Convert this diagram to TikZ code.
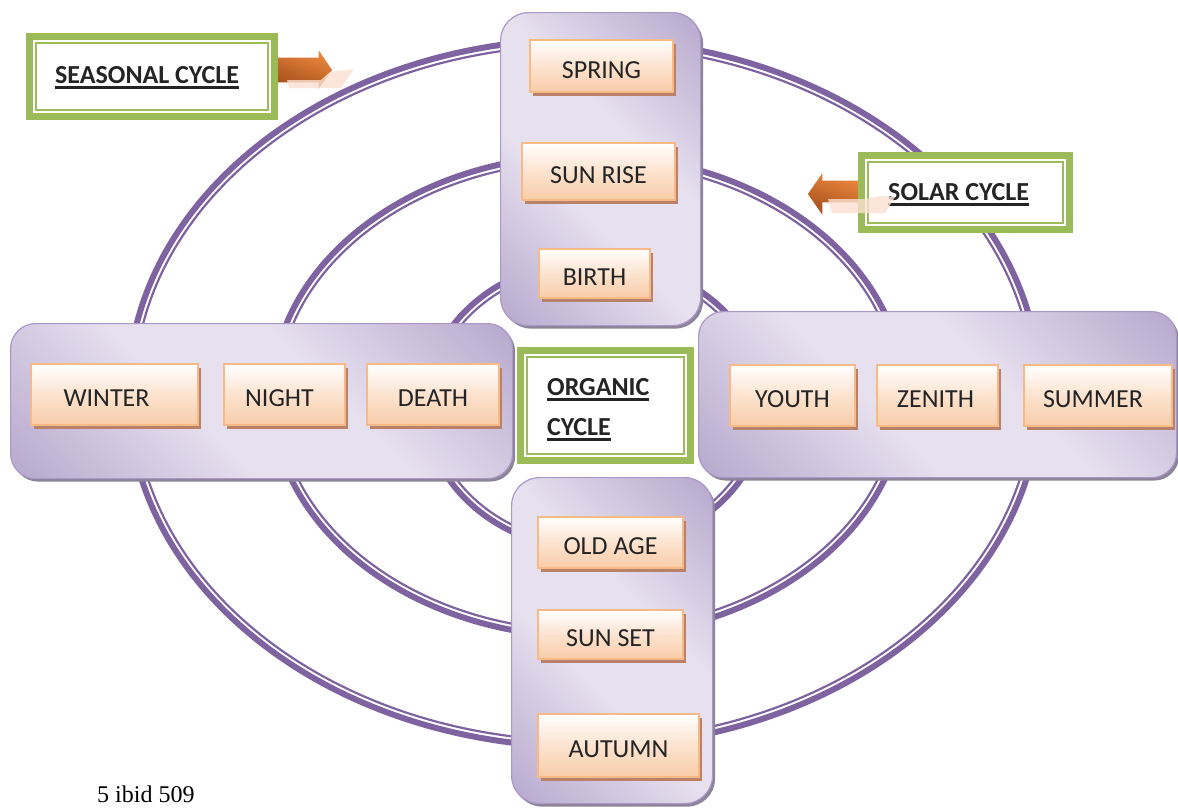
\documentclass[tikz,border=0pt]{standalone}
\usepackage{fontspec}
\setmainfont{Carlito}
\newfontfamily\timesf{Liberation Serif}
\usetikzlibrary{shadows}
\definecolor{ell}{RGB}{127,99,161}
\definecolor{plight}{RGB}{231,225,239}
\definecolor{pdark}{RGB}{178,162,202}
\definecolor{pborder}{RGB}{170,152,198}
\definecolor{pshadow}{RGB}{140,132,152}
\definecolor{oborder}{RGB}{247,186,135}
\definecolor{opeach}{RGB}{249,204,168}
\definecolor{oshadow}{RGB}{185,128,106}
\definecolor{lgreen}{RGB}{155,187,89}
\definecolor{arrL}{RGB}{238,138,64}
\definecolor{arrD}{RGB}{163,78,26}
\definecolor{refl}{RGB}{251,224,208}
\definecolor{txt}{RGB}{36,36,36}
\pgfdeclarehorizontalshading{purpleshade}{100bp}{color(0bp)=(pdark); color(12bp)=(pdark); color(42bp)=(plight); color(58bp)=(plight); color(88bp)=(pdark); color(100bp)=(pdark)}
\newcommand\ulbar[1]{\setbox0\hbox{#1}\rlap{\raisebox{-5.8pt}{\rule{\wd0}{2.8pt}}}\box0}
\tikzset{
  ellthick/.style={draw=ell, line width=6pt},
  ellthin/.style={draw=ell, line width=2.2pt},
  pbox/.style={draw=pborder, line width=1.2pt, rounded corners=28pt,
    shading=purpleshade, shading angle=45,
    drop shadow={shadow xshift=2.5pt, shadow yshift=-3pt, fill=pshadow, opacity=1}},
  obox/.style={draw=oborder, line width=1.6pt, top color=white, bottom color=opeach,
    middle color=white!45!opeach, text=txt, inner sep=0pt,
    text height=24pt, text depth=0pt,
    font=\fontsize{26}{30}\selectfont,
    drop shadow={shadow xshift=3pt, shadow yshift=-4pt, fill=oshadow, opacity=1}},
  gbox/.style={draw=lgreen, line width=7pt, fill=white, inner sep=0pt},
  gthin/.style={draw=lgreen, line width=1.8pt},
  gtext/.style={anchor=base west, inner sep=0pt, text=txt, font=\bfseries\fontsize{26}{30}\selectfont},
  blockarrow/.style={left color=arrL, right color=arrD, shading angle=-20, draw=white, line width=1.2pt},
  reflect/.style={fill=refl, opacity=0.8},
}
\begin{document}
\begin{tikzpicture}[x=1pt,y=-1pt]
\useasboundingbox (0,0) rectangle (1178,809);
\fill[white] (0,0) rectangle (1178,809);
% ellipses
\draw[ellthick] (584,393) ellipse [x radius=456, y radius=354];
\draw[ellthin] (584,393) ellipse [x radius=449.8, y radius=347.8];
\draw[ellthick] (588,396) ellipse [x radius=316, y radius=241];
\draw[ellthin] (588,396) ellipse [x radius=309.8, y radius=234.8];
\draw[ellthick] (595,405) ellipse [x radius=170, y radius=145];
\draw[ellthin] (595,405) ellipse [x radius=163.8, y radius=138.8];
% arrows
\shade[blockarrow] (277,57) -- (318,57) -- (318,48) -- (333,70) -- (318,91) -- (318,83) -- (277,83) -- cycle;
\shade[blockarrow] (860,180) -- (823,180) -- (823,171) -- (807,194) -- (823,217) -- (823,203) -- (860,203) -- cycle;
% purple boxes
\node[pbox, minimum width=200pt, minimum height=313pt, anchor=north west] (topbox) at (500,12) {};
\node[pbox, rounded corners=25pt, minimum width=502pt, minimum height=155pt, anchor=north west] (leftbox) at (10,323) {};
\node[pbox, rounded corners=25pt, minimum width=478pt, minimum height=166pt, anchor=north west] (rightbox) at (698,311) {};
\node[pbox, minimum width=201pt, minimum height=326pt, anchor=north west] (botbox) at (511,477) {};
% orange boxes
\node[obox, minimum width=143pt, minimum height=52pt] (spring) at (601.5,66) {SPRING};
\node[obox, minimum width=153pt, minimum height=57pt] (sunrise) at (598.5,171.5) {SUN RISE};
\node[obox, minimum width=111pt, minimum height=49pt] (birth) at (594.5,273.5) {BIRTH};
\node[obox, minimum width=167pt, minimum height=61pt] (winter) at (114.5,394.5) {\hspace*{-16pt}WINTER};
\node[obox, minimum width=121pt, minimum height=61pt] (night) at (284.5,394.5) {\hspace*{-10pt}NIGHT};
\node[obox, minimum width=132pt, minimum height=61pt] (death) at (433,394.5) {DEATH};
\node[obox, minimum width=125pt, minimum height=61pt] (youth) at (792.5,395.5) {YOUTH};
\node[obox, minimum width=121pt, minimum height=61pt] (zenith) at (937.5,395.5) {\hspace*{-4pt}ZENITH};
\node[obox, minimum width=148pt, minimum height=61pt] (summer) at (1098,395.5) {\hspace*{-10pt}SUMMER};
\node[obox, minimum width=145pt, minimum height=51pt] (oldage) at (610.5,542.5) {OLD AGE};
\node[obox, minimum width=145pt, minimum height=49pt] (sunset) at (610.5,634.5) {SUN SET};
\node[obox, minimum width=161pt, minimum height=63pt] (autumn) at (618.5,745.5) {AUTUMN};
% green label boxes
\node[gbox, minimum width=245pt, minimum height=80pt, anchor=north west] (seasonal) at (26,33) {};
\draw[gthin] ([shift={(10,10)}]seasonal.north west) rectangle ([shift={(-10,-10)}]seasonal.south east);
\node[gtext] (seasonaltext) at (55,83) {\ulbar{SEASONAL CYCLE}};
\node[gbox, minimum width=208pt, minimum height=74pt, anchor=north west] (solar) at (858,152) {};
\draw[gthin] ([shift={(10,10)}]solar.north west) rectangle ([shift={(-10,-10)}]solar.south east);
\node[gtext] (solartext) at (888,200) {\ulbar{SOLAR CYCLE}};
\node[gbox, minimum width=170pt, minimum height=110pt, anchor=north west] (organic) at (517,347) {};
\draw[gthin] ([shift={(10,10)}]organic.north west) rectangle ([shift={(-10,-10)}]organic.south east);
\node[gtext] (organic1) at (547,395) {\ulbar{ORGANIC}};
\node[gtext] (organic2) at (547,435) {\ulbar{CYCLE}};
% reflections
\fill[reflect] (287,80) -- (321,80) -- (330,72) -- (354,69) -- (341,88) -- (289,88) -- cycle;
\fill[reflect] (828,199) -- (866,199) -- (880,196) -- (895,197) -- (885,213) -- (832,213) -- cycle;
% footnote
\node[anchor=base west, inner sep=0pt, font=\timesf\fontsize{24}{28}\selectfont] (fn) at (97,802) {5 ibid 509};
\end{tikzpicture}
\end{document}
